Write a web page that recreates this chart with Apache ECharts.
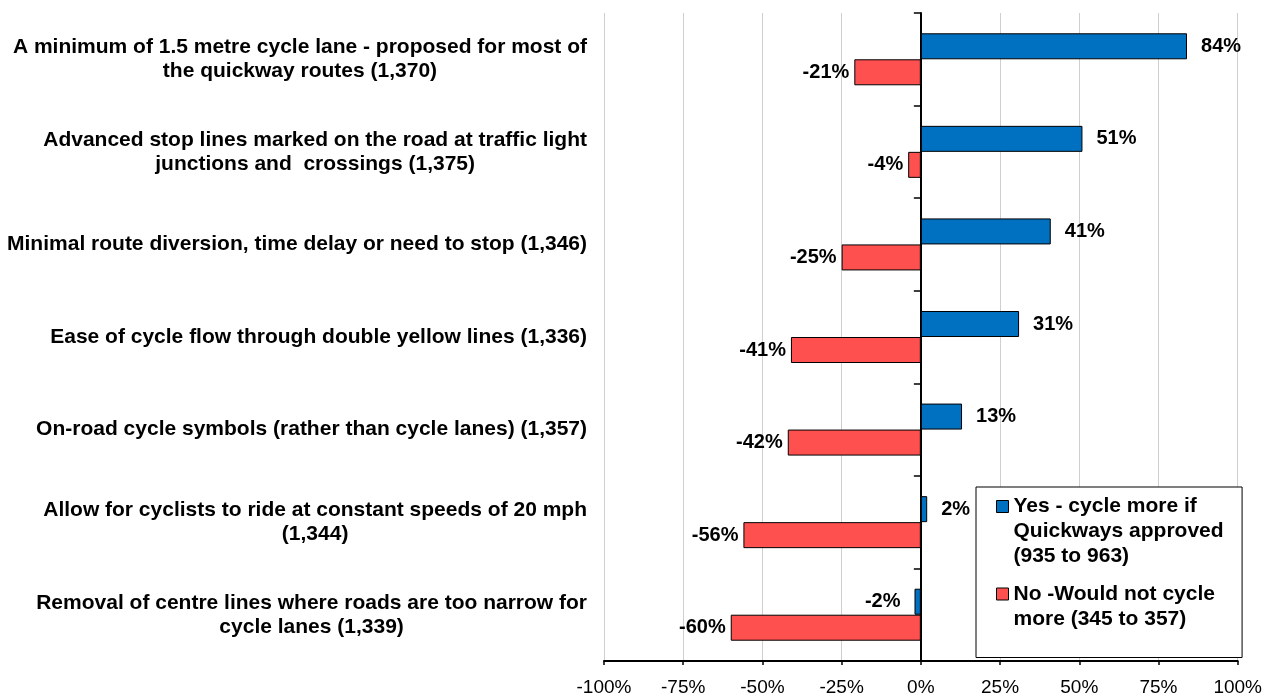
<!DOCTYPE html>
<html>
<head>
<meta charset="utf-8">
<script src="https://cdn.jsdelivr.net/npm/echarts@6/dist/echarts.min.js"></script>
<style>
html,body{margin:0;padding:0;background:#fff;}
#chart{width:1265px;height:697px;}
</style>
</head>
<body>
<div id="chart"></div>
<script>
const categories = [
  'A minimum of 1.5 metre cycle lane - proposed for most of\nthe quickway routes (1,370)',
  'Advanced stop lines marked on the road at traffic light\njunctions and  crossings (1,375)',
  'Minimal route diversion, time delay or need to stop (1,346)',
  'Ease of cycle flow through double yellow lines (1,336)',
  'On-road cycle symbols (rather than cycle lanes) (1,357)',
  'Allow for cyclists to ride at constant speeds of 20 mph\n(1,344)',
  'Removal of centre lines where roads are too narrow for\ncycle lanes (1,339)'
];
const yesValues = [84, 51, 41, 31, 13, 2, -2];
const noValues = [-21, -4, -25, -41, -42, -56, -60];
const seriesNames = [
  'Yes - cycle more if\nQuickways approved\n(935 to 963)',
  'No -Would not cycle\nmore (345 to 357)'
];
const xTicks = { min: -100, max: 100, interval: 25 };

const FONT = 'Liberation Sans, Arial, sans-serif';
const chart = echarts.init(document.getElementById('chart'), null, { renderer: 'canvas' });

const labelFmt = p => p.value + '%';

chart.setOption({
  animation: false,
  backgroundColor: '#ffffff',
  textStyle: { fontFamily: FONT },
  grid: { left: 604, right: 24, top: 13, bottom: 35, containLabel: false },
  xAxis: {
    type: 'value',
    min: xTicks.min, max: xTicks.max, interval: xTicks.interval,
    axisLine: { show: true, onZero: false, lineStyle: { color: '#000', width: 2 } },
    axisTick: { show: true, length: 4, lineStyle: { color: '#000', width: 1.5 } },
    axisLabel: { formatter: '{value}%', color: '#000', fontSize: 19, fontFamily: FONT, margin: 17 },
    splitLine: { show: true, lineStyle: { color: '#cfcfcf', width: 1 } }
  },
  yAxis: [
    {
      type: 'category',
      data: categories,
      inverse: true,
      axisLine: { show: false, onZero: false },
      axisTick: { show: false },
      splitLine: { show: false },
      axisLabel: {
        margin: 17,
        align: 'right',
        formatter: v => v.split('\n').map(s => '{c|' + s + '}').join('\n'),
        rich: {
          c: { align: 'center', fontWeight: 'bold', fontSize: 21, lineHeight: 24, color: '#000', fontFamily: FONT }
        }
      }
    },
    {
      type: 'category',
      data: categories,
      inverse: true,
      axisLine: { show: true, onZero: true, lineStyle: { color: '#000', width: 2 } },
      axisTick: { show: true, inside: true, length: 7, lineStyle: { color: '#000', width: 1.5 } },
      axisLabel: { show: false },
      splitLine: { show: false }
    }
  ],
  legend: {
    orient: 'vertical',
    left: 976,
    top: 487,
    padding: [6.5, 18.5, 13, 20],
    itemWidth: 12,
    itemHeight: 75,
    itemGap: -1,
    selectedMode: false,
    backgroundColor: '#ffffff',
    borderColor: '#000',
    borderWidth: 1,
    borderRadius: 0,
    itemStyle: { borderColor: '#000', borderWidth: 1 },
    textStyle: { color: '#000', fontWeight: 'bold', fontSize: 21, lineHeight: 25, fontFamily: FONT },
    data: [
      { name: seriesNames[0], icon: 'path://M0,6.5h12v12h-12z M0,0l0,0 M0,75l0,0' },
      { name: seriesNames[1], icon: 'path://M0,19h12v12h-12z M0,0l0,0 M0,75l0,0' }
    ]
  },
  series: [
    {
      name: seriesNames[0],
      type: 'bar',
      yAxisIndex: 0,
      barWidth: 26,
      barGap: '0%',
      itemStyle: { color: '#0070C0', borderColor: '#000', borderWidth: 1 },
      label: { show: true, formatter: labelFmt, fontWeight: 'bold', fontSize: 20, color: '#000', distance: 14, fontFamily: FONT },
      data: yesValues.map(v => ({ value: v, label: { position: v < 0 ? 'left' : 'right' } }))
    },
    {
      name: seriesNames[1],
      type: 'bar',
      yAxisIndex: 0,
      barWidth: 26,
      barGap: '0%',
      itemStyle: { color: '#FF5050', borderColor: '#000', borderWidth: 1 },
      label: { show: true, formatter: labelFmt, fontWeight: 'bold', fontSize: 20, color: '#000', distance: 5, fontFamily: FONT },
      data: noValues.map(v => ({ value: v, label: { position: v < 0 ? 'left' : 'right' } }))
    }
  ]
});
</script>
</body>
</html>
